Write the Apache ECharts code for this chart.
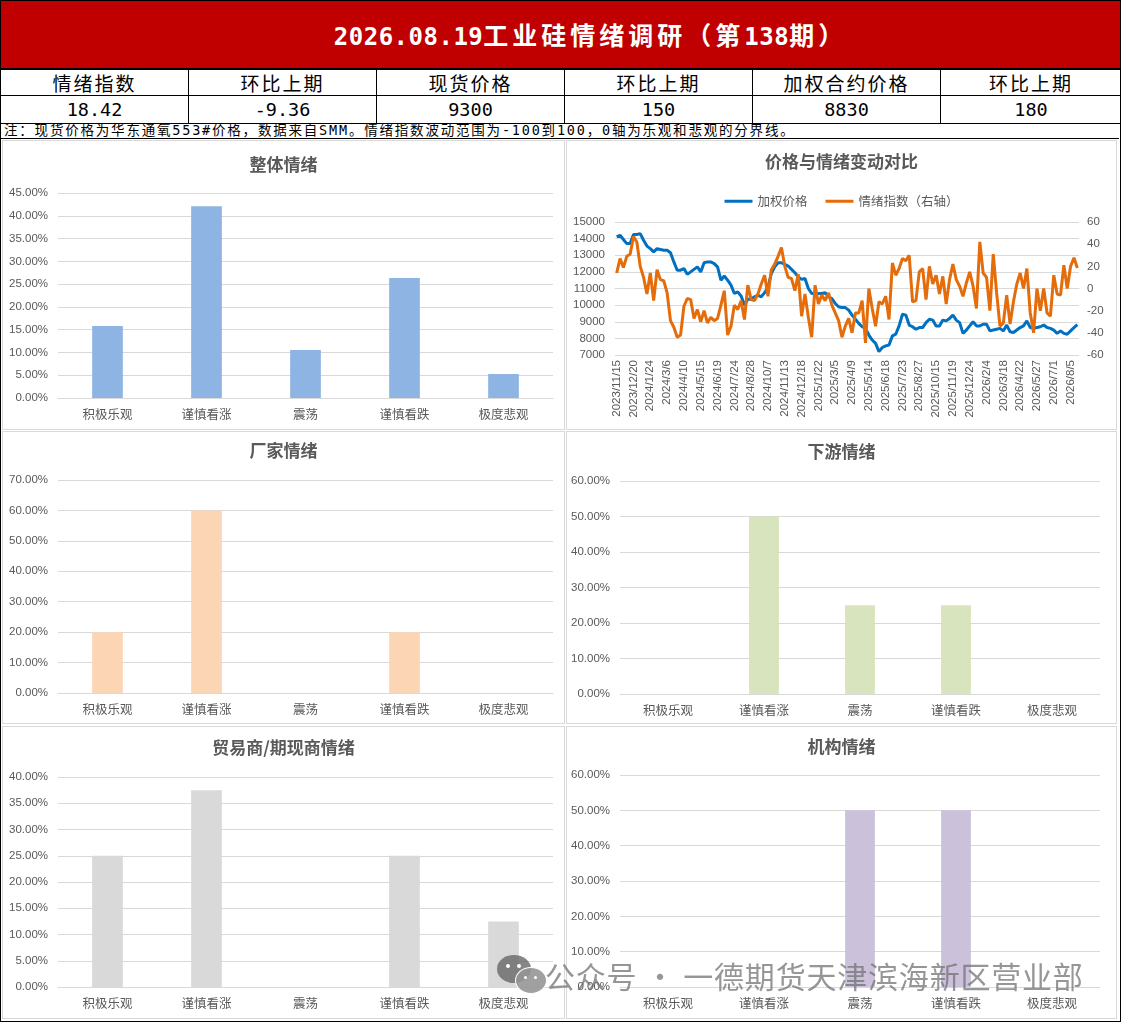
<!DOCTYPE html>
<html><head><meta charset="utf-8">
<script src="https://cdn.jsdelivr.net/npm/echarts@6/dist/echarts.min.js"></script>
<style>
html,body{margin:0;padding:0;background:#fff;}
body{width:1121px;height:1022px;position:relative;overflow:hidden;font-family:"Noto Sans CJK SC",sans-serif;}
#title{position:absolute;left:0;top:0;width:1119px;height:67px;background:#C00000;border:1px solid #000;color:#fff;text-align:center;line-height:71px;box-sizing:content-box;padding-left:0;}
#title span{font-weight:bold;font-family:"DejaVu Sans Mono","Noto Sans CJK SC";}
#title .d{font-size:24px;letter-spacing:0.5px;}
#title .c{font-size:25px;letter-spacing:4px;}
#titleInner{position:relative;left:30px;}
table{position:absolute;left:0;top:69px;width:1121px;border-collapse:collapse;table-layout:fixed;}
td{border:1px solid #000;text-align:center;height:25px;padding:0;color:#000;line-height:25px;overflow:hidden;}
#hrow td{font:19px "Noto Sans CJK SC";letter-spacing:2px;line-height:25px;}
#vrow td{font:18.5px "DejaVu Sans Mono","Noto Sans CJK SC";letter-spacing:0px;line-height:27px;}
#note{position:absolute;left:0;top:122px;width:1119px;height:17px;border-left:1px solid #000;border-bottom:1px solid #000;font:13.5px "DejaVu Sans Mono","Noto Sans CJK SC";letter-spacing:1.8px;white-space:nowrap;line-height:17px;padding-left:3px;box-sizing:border-box;}
.panel{position:absolute;border:1px solid #d9d9d9;box-sizing:border-box;}
.chart{position:absolute;left:0;top:0;width:100%;height:100%;}
#wm{position:absolute;left:545px;top:955px;font:30px "Noto Sans CJK SC";color:rgba(110,110,110,0.72);white-space:nowrap;letter-spacing:0.8px;line-height:40px;}
.b1{position:absolute;left:497px;top:955px;width:34px;height:28px;border-radius:50%;background:rgba(100,100,100,0.78);}
.b2{position:absolute;left:515px;top:967px;width:30px;height:25px;border-radius:50%;background:rgba(150,150,150,0.9);border:1.5px solid #fff;}
.eye{position:absolute;width:4px;height:4px;border-radius:50%;background:#fff;}
#outer{position:absolute;left:0;top:0;width:1121px;height:1022px;box-sizing:border-box;border:1px solid #000;pointer-events:none;}
</style>
</head>
<body>
<div id="title"><span id="titleInner"><span class="d">2026.08.19</span><span class="c">工业硅情绪调研（第</span><span class="d">138</span><span class="c">期）</span></span></div>
<table>
<colgroup><col style="width:188px"><col style="width:188px"><col style="width:188px"><col style="width:188px"><col style="width:188px"><col style="width:181px"></colgroup>
<tr id="hrow"></tr>
<tr id="vrow"></tr>
</table>
<div id="note">注：现货价格为华东通氧553#价格，数据来自SMM。情绪指数波动范围为-100到100，0轴为乐观和悲观的分界线。</div>

<div class="panel" style="left:2px;top:140px;width:563px;height:290px;"><div class="chart" id="c1"></div></div>
<div class="panel" style="left:566px;top:140px;width:551px;height:290px;"><div class="chart" id="c2"></div></div>
<div class="panel" style="left:2px;top:431px;width:563px;height:293px;"><div class="chart" id="c3"></div></div>
<div class="panel" style="left:566px;top:431px;width:551px;height:293px;"><div class="chart" id="c4"></div></div>
<div class="panel" style="left:2px;top:726px;width:563px;height:293px;"><div class="chart" id="c5"></div></div>
<div class="panel" style="left:566px;top:726px;width:551px;height:293px;"><div class="chart" id="c6"></div></div>

<div class="b1"></div>
<div class="eye" style="left:506px;top:964px;"></div><div class="eye" style="left:517px;top:964px;"></div>
<div class="b2"></div>
<div class="eye" style="left:524px;top:976px;width:3px;height:3px;"></div><div class="eye" style="left:534px;top:976px;width:3px;height:3px;"></div>
<div id="wm">公众号 · 一德期货天津滨海新区营业部</div>
<div id="outer"></div>

<script>
// ---------- header table ----------
const headerLabels = ['情绪指数','环比上期','现货价格','环比上期','加权合约价格','环比上期'];
const headerValues = ['18.42','-9.36','9300','150','8830','180'];

// ---------- bar charts ----------
const categories = ['积极乐观','谨慎看涨','震荡','谨慎看跌','极度悲观'];
const overallPct = [15.79, 42.11, 10.53, 26.32, 5.26];
const producerPct = [20, 60, 0, 20, 0];
const downstreamPct = [0, 50, 25, 25, 0];
const traderPct = [25, 37.5, 0, 25, 12.5];
const institutionPct = [0, 0, 50, 50, 0];

// ---------- line chart ----------
const dates = [
'2023/11/15','2023/11/22','2023/11/29','2023/12/6','2023/12/13','2023/12/20','2023/12/27','2024/1/3','2024/1/10','2024/1/17',
'2024/1/24','2024/1/31','2024/2/7','2024/2/21','2024/2/28','2024/3/6','2024/3/13','2024/3/20','2024/3/27','2024/4/3',
'2024/4/10','2024/4/17','2024/4/24','2024/5/1','2024/5/8','2024/5/15','2024/5/22','2024/5/29','2024/6/5','2024/6/12',
'2024/6/19','2024/6/26','2024/7/3','2024/7/10','2024/7/17','2024/7/24','2024/7/31','2024/8/7','2024/8/14','2024/8/21',
'2024/8/28','2024/9/4','2024/9/11','2024/9/18','2024/9/25','2024/10/7','2024/10/16','2024/10/23','2024/10/30','2024/11/6',
'2024/11/13','2024/11/20','2024/11/27','2024/12/4','2024/12/11','2024/12/18','2024/12/25','2025/1/1','2025/1/8','2025/1/15',
'2025/1/22','2025/2/5','2025/2/12','2025/2/19','2025/2/26','2025/3/5','2025/3/12','2025/3/19','2025/3/26','2025/4/2',
'2025/4/9','2025/4/16','2025/4/23','2025/4/30','2025/5/7','2025/5/14','2025/5/21','2025/5/28','2025/6/4','2025/6/11',
'2025/6/18','2025/6/25','2025/7/2','2025/7/9','2025/7/16','2025/7/23','2025/7/30','2025/8/6','2025/8/13','2025/8/20',
'2025/8/27','2025/9/3','2025/9/10','2025/9/17','2025/9/24','2025/10/15','2025/10/22','2025/10/29','2025/11/5','2025/11/12',
'2025/11/19','2025/11/26','2025/12/3','2025/12/10','2025/12/17','2025/12/24','2025/12/31','2026/1/7','2026/1/14','2026/1/21',
'2026/2/4','2026/2/11','2026/2/25','2026/3/4','2026/3/11','2026/3/18','2026/3/25','2026/4/1','2026/4/8','2026/4/15',
'2026/4/22','2026/4/29','2026/5/6','2026/5/13','2026/5/20','2026/5/27','2026/6/3','2026/6/10','2026/6/17','2026/6/24',
'2026/7/1','2026/7/8','2026/7/15','2026/7/22','2026/7/29','2026/8/5','2026/8/12','2026/8/19'];

const weightedPrice = [
14100,14200,13950,13700,13700,14250,14250,14300,13900,13550,
13400,13200,13400,13350,13300,13300,13150,12600,12100,12100,
12200,11850,12000,12150,12300,12000,12550,12600,12600,12500,
12300,11500,11750,11500,11200,10700,10800,10550,10000,10350,
10350,10500,10600,10500,10750,11100,11900,12300,12550,12550,
12450,12350,12150,11950,11700,11550,11600,11000,10700,10700,
10700,10700,10750,10500,10400,10100,9900,9850,9850,9700,
9400,9150,8900,8700,8600,8200,7900,7700,7200,7450,
7550,7600,8150,8250,8750,9450,9400,8800,8700,8550,
8650,8650,8950,9150,9100,8750,8750,9100,9050,9200,
9400,9100,8950,8300,8500,8750,9000,8750,8750,8850,
8850,8450,8500,8550,8600,8450,8800,8400,8350,8500,
8650,8750,9050,8650,8600,8650,8700,8800,8650,8600,
8500,8300,8450,8300,8250,8450,8650,8830];

const sentimentIndex = [
14,27,19,29,31,47,42,20,10,-5,
14,-11,17,8,7,-4,-29,-35,-44,-42,
-16,-9,-10,-27,-19,-30,-20,-31,-26,-29,
-27,-15,-2,-42,-34,-15,-19,-11,-28,3,
-10,-11,-5,4,12,-7,17,22,29,37,
20,10,9,-2,13,-25,-5,-26,-44,3,
-14,-6,-11,-4,-15,-22,-29,-44,-34,-27,
-40,-22,-22,-11,-49,0,-18,-34,-12,-14,
-7,-28,23,12,18,27,25,30,-12,-11,
15,18,-10,20,4,12,-5,11,-14,8,
22,8,2,-7,5,15,2,-18,42,14,
10,-20,31,-4,-34,-31,-6,-32,-12,4,
14,0,18,-22,-40,0,-20,0,-22,-25,
12,-5,-6,21,0,20,27.78,18.42];

const priceTicks = {min:7000, max:15000, interval:1000};
const sentTicks = {min:-60, max:60, interval:20};

// build header
const hrow = document.getElementById('hrow');
const vrow = document.getElementById('vrow');
headerLabels.forEach(t => { const td = document.createElement('td'); td.textContent = t; hrow.appendChild(td); });
headerValues.forEach(t => { const td = document.createElement('td'); td.textContent = t; vrow.appendChild(td); });

const GRAY = '#595959';
const GRID = '#d9d9d9';

function barOption(title, titleTop, data, color, maxV, interval, grid) {
  return {
    animation: false,
    title: { text: title, left: 'center', top: titleTop,
      textStyle: { fontSize: 17, fontWeight: 'bold', color: GRAY, fontFamily: 'Noto Sans CJK SC' } },
    grid: grid,
    xAxis: { type: 'category', data: categories,
      axisLine: { lineStyle: { color: GRID } }, axisTick: { show: false },
      axisLabel: { color: GRAY, fontSize: 12.5, margin: 10, fontFamily: 'Noto Sans CJK SC' } },
    yAxis: { type: 'value', min: 0, max: maxV, interval: interval,
      axisLine: { show: false }, axisTick: { show: false },
      splitLine: { lineStyle: { color: GRID } },
      axisLabel: { color: GRAY, fontSize: 11.5, margin: 10, fontFamily: 'Liberation Sans',
        formatter: v => v.toFixed(2) + '%' } },
    series: [{ type: 'bar', data: data, barWidth: '31%', itemStyle: { color: color } }]
  };
}

const c1 = echarts.init(document.getElementById('c1'));
c1.setOption(barOption('整体情绪', 10, overallPct, '#8EB4E3', 45, 5, { left: 55, top: 52, width: 495, height: 205 }));

const c3 = echarts.init(document.getElementById('c3'));
c3.setOption(barOption('厂家情绪', 5, producerPct, '#FCD5B5', 70, 10, { left: 55, top: 48, width: 495, height: 213 }));

const c4 = echarts.init(document.getElementById('c4'));
c4.setOption(barOption('下游情绪', 6, downstreamPct, '#D7E4BD', 60, 10, { left: 53, top: 49, width: 480, height: 213 }));

const c5 = echarts.init(document.getElementById('c5'));
c5.setOption(barOption('贸易商/期现商情绪', 7, traderPct, '#D9D9D9', 40, 5, { left: 55, top: 50, width: 495, height: 210 }));

const c6 = echarts.init(document.getElementById('c6'));
c6.setOption(barOption('机构情绪', 6, institutionPct, '#CCC1DA', 60, 10, { left: 53, top: 48, width: 480, height: 212 }));

const c2 = echarts.init(document.getElementById('c2'));
c2.setOption({
  animation: false,
  title: { text: '价格与情绪变动对比', left: 'center', top: 7,
    textStyle: { fontSize: 17, fontWeight: 'bold', color: GRAY, fontFamily: 'Noto Sans CJK SC' } },
  legend: { top: 49, left: 'center', icon: 'rect', itemWidth: 28, itemHeight: 3, itemGap: 18,
    textStyle: { color: GRAY, fontSize: 12.5, fontFamily: 'Noto Sans CJK SC' },
    data: ['加权价格', '情绪指数（右轴）'] },
  grid: { left: 48, top: 81, width: 464, height: 133 },
  xAxis: { type: 'category', data: dates, boundaryGap: true,
    axisLine: { lineStyle: { color: GRID } }, axisTick: { show: false },
    axisLabel: { interval: 4, rotate: 90, color: GRAY, fontSize: 11.5, margin: 5, fontFamily: 'Liberation Sans' } },
  yAxis: [
    { type: 'value', min: priceTicks.min, max: priceTicks.max, interval: priceTicks.interval,
      axisLine: { show: false }, axisTick: { show: false },
      splitLine: { lineStyle: { color: GRID } },
      axisLabel: { color: GRAY, fontSize: 11.5, margin: 10, fontFamily: 'Liberation Sans', formatter: v => String(v) } },
    { type: 'value', min: sentTicks.min, max: sentTicks.max, interval: sentTicks.interval,
      axisLine: { show: false }, axisTick: { show: false }, splitLine: { show: false },
      axisLabel: { color: GRAY, fontSize: 11.5, margin: 8, fontFamily: 'Liberation Sans', formatter: v => String(v) } }
  ],
  series: [
    { name: '加权价格', type: 'line', yAxisIndex: 0, data: weightedPrice, symbol: 'none',
      lineStyle: { color: '#0070C0', width: 3 }, itemStyle: { color: '#0070C0' } },
    { name: '情绪指数（右轴）', type: 'line', yAxisIndex: 1, data: sentimentIndex, symbol: 'none',
      lineStyle: { color: '#E46C0A', width: 3 }, itemStyle: { color: '#E46C0A' } }
  ]
});
</script>
</body></html>
